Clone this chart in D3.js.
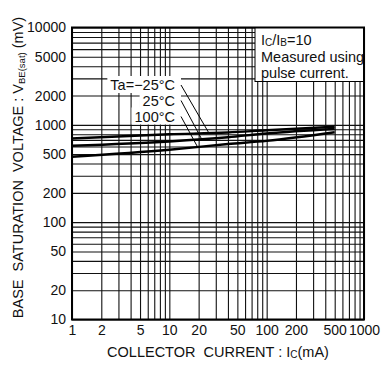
<!DOCTYPE html>
<html>
<head>
<meta charset="utf-8">
<script src="https://cdn.jsdelivr.net/npm/d3@7"></script>
<style>
  html, body { margin: 0; padding: 0; background: #fff; }
  svg { display: block; font-family: "Liberation Sans", Arial, sans-serif; }
  text { white-space: pre; }
</style>
</head>
<body>
<svg id="chart" width="386" height="365"></svg>
<script>
// Collector current (mA) sample points and VBE(sat) (mV) per ambient temperature
const currentMA = [1, 10, 40, 100, 500];
const vbeMinus25 = [725, 800, 835, 880, 955];
const vbe25 = [610, 675, 745, 815, 905];
const vbe100 = [470, 555, 635, 685, 840];

const seriesNames = ["Ta=\u221225\u00B0C", "25\u00B0C", "100\u00B0C"];
// current (mA) where each label's leader line meets its curve
const leaderAtMA = [25.5, 21.5, 19.5];

const xTickLabels = [1, 2, 5, 10, 20, 50, 100, 200, 500, 1000];
const yTickLabels = [10, 20, 50, 100, 200, 500, 1000, 2000, 5000, 10000];

const svg = d3.select("#chart");
const m = { left: 72, right: 364, top: 27.5, bottom: 319.5 };

const x = d3.scaleLog().domain([1, 1000]).range([m.left, m.right]);
const y = d3.scaleLog().domain([10, 10000]).range([m.bottom, m.top]);
const W = m.right - m.left, H = m.bottom - m.top;

// full log grid (every 1..9 multiple)
const gridX = svg.append("g")
  .attr("transform", `translate(0,${m.bottom})`)
  .call(d3.axisBottom(x).tickValues(x.ticks()).tickSize(-H).tickFormat(""));
const gridY = svg.append("g")
  .attr("transform", `translate(${m.left},0)`)
  .call(d3.axisLeft(y).tickValues(y.ticks()).tickSize(-W).tickFormat(""));
[gridX, gridY].forEach(g => {
  g.select(".domain").remove();
  g.selectAll(".tick line").attr("stroke", "#111").attr("stroke-width", 1.1);
});

// tick labels
const xLab = svg.append("g")
  .attr("transform", `translate(0,${m.bottom + 3})`)
  .call(d3.axisBottom(x).tickValues(xTickLabels).tickSize(0).tickFormat(d3.format("d")));
xLab.select(".domain").remove();
xLab.selectAll("text").attr("font-size", 14).attr("fill", "#111")
  .attr("font-family", "Liberation Sans, Arial, sans-serif");

const yLab = svg.append("g")
  .attr("transform", `translate(${m.left - 3},0)`)
  .call(d3.axisLeft(y).tickValues(yTickLabels).tickSize(0).tickFormat(d3.format("d")));
yLab.select(".domain").remove();
yLab.selectAll("text").attr("font-size", 14).attr("fill", "#111")
  .attr("font-family", "Liberation Sans, Arial, sans-serif");

// curves
const series = [vbeMinus25, vbe25, vbe100];
const line = d3.line()
  .x((d, i) => x(currentMA[i]))
  .y(d => y(d))
  .curve(d3.curveMonotoneX);
series.forEach(s => {
  svg.append("path").datum(s)
    .attr("d", line)
    .attr("fill", "none")
    .attr("stroke", "#000")
    .attr("stroke-width", 2.4);
});

// interpolate a series at a current value (log-log)
function valueAt(s, mA) {
  const lx = Math.log10(mA);
  for (let i = 0; i < currentMA.length - 1; i++) {
    const a = Math.log10(currentMA[i]), b = Math.log10(currentMA[i + 1]);
    if (lx >= a && lx <= b) {
      const t = (lx - a) / (b - a);
      return Math.pow(10, Math.log10(s[i]) * (1 - t) + Math.log10(s[i + 1]) * t);
    }
  }
  return s[s.length - 1];
}

// temperature labels with leader lines
const labelRight = 175;
const labelBaselines = [90, 105.5, 121.5];
const lab = svg.append("g");
seriesNames.forEach((name, i) => {
  const t = lab.append("text")
    .attr("x", labelRight).attr("y", labelBaselines[i])
    .attr("text-anchor", "end").attr("font-size", 14.5).attr("fill", "#111")
    .text(name);
  const bb = t.node().getBBox();
  lab.insert("rect", "text")
    .attr("x", bb.x - 3).attr("y", bb.y - 1)
    .attr("width", bb.width + 9).attr("height", bb.height + 1)
    .attr("fill", "#fff");
});
seriesNames.forEach((name, i) => {
  const mA = leaderAtMA[i];
  lab.append("line")
    .attr("x1", labelRight + 6).attr("y1", labelBaselines[i] - 5)
    .attr("x2", x(mA)).attr("y2", y(valueAt(series[i], mA)))
    .attr("stroke", "#000").attr("stroke-width", 1);
});

// condition box
const box = svg.append("g");
box.append("rect")
  .attr("x", 255).attr("y", m.top).attr("width", m.right - 255).attr("height", 54)
  .attr("fill", "#fff").attr("stroke", "#000").attr("stroke-width", 1);
const bt = box.append("g").attr("font-size", 14.5).attr("fill", "#111");
const l1 = bt.append("text").attr("x", 261).attr("y", 44.5);
l1.append("tspan").text("I");
l1.append("tspan").attr("font-size", 10).attr("dy", 1).text("C");
l1.append("tspan").attr("dy", -1).text("/I");
l1.append("tspan").attr("font-size", 10).attr("dy", 1).text("B");
l1.append("tspan").attr("dy", -1).text("=10");
bt.append("text").attr("x", 261).attr("y", 61.5).text("Measured using");
bt.append("text").attr("x", 261).attr("y", 77.5).text("pulse current.");

// frame
svg.append("rect")
  .attr("x", m.left).attr("y", m.top).attr("width", W).attr("height", H)
  .attr("fill", "none").attr("stroke", "#000").attr("stroke-width", 2);

// axis titles
const xt = svg.append("text")
  .attr("x", (m.left + m.right) / 2).attr("y", 357)
  .attr("text-anchor", "middle").attr("font-size", 14.5).attr("fill", "#111");
xt.append("tspan").text("COLLECTOR  CURRENT : I");
xt.append("tspan").attr("font-size", 10).attr("dy", 1).text("C");
xt.append("tspan").attr("dy", -1).text("(mA)");

const yt = svg.append("text")
  .attr("transform", `translate(23,${(13 + 322) / 2}) rotate(-90)`)
  .attr("text-anchor", "middle").attr("font-size", 14.5).attr("fill", "#111");
yt.append("tspan").text("BASE  SATURATION  VOLTAGE : V");
yt.append("tspan").attr("font-size", 9.5).attr("dy", 1.5).text("BE(sat)");
yt.append("tspan").attr("dy", -1.5).text(" (mV)");
</script>
</body>
</html>
